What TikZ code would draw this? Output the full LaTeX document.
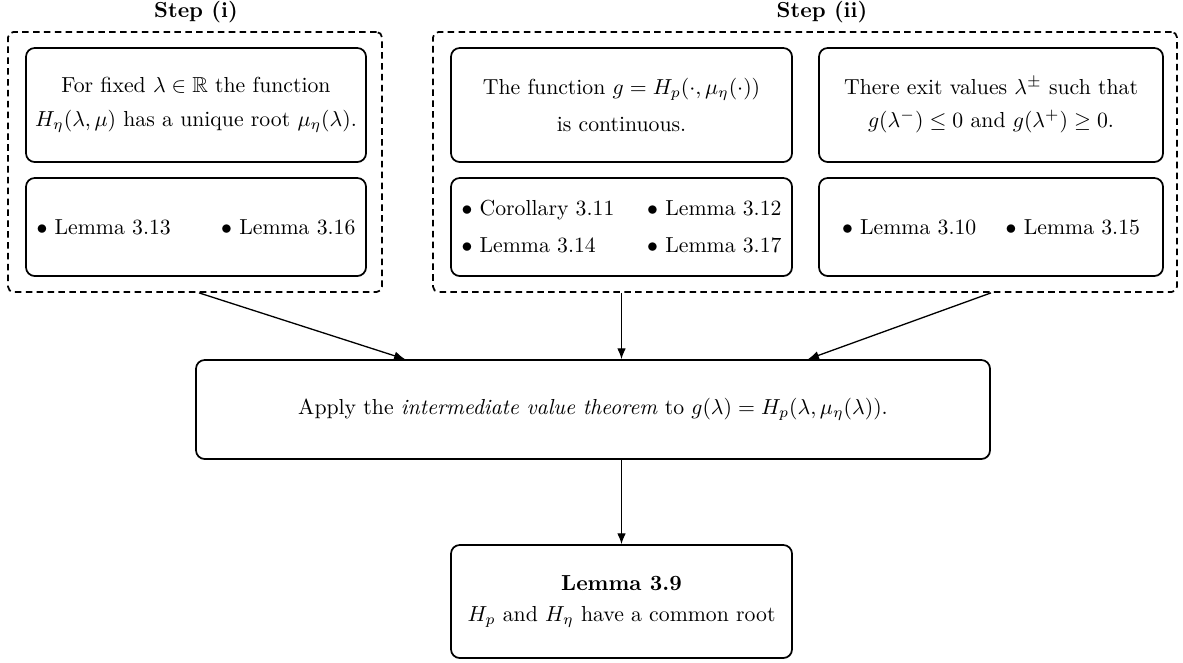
\documentclass[tikz,border=0pt]{standalone}
\usepackage{amsmath,amssymb}
\usetikzlibrary{arrows.meta,calc}
\newlength\ulen
\setlength\ulen{0.46pt}
\tikzset{
  x=0.46pt, y=-0.46pt,
  box/.style={draw, thick, rounded corners=4pt, inner sep=0pt, align=center},
  group/.style={draw, thick, dash pattern=on 3pt off 2pt, rounded corners=2.5pt, inner sep=0pt},
  arr/.style={semithick, -{Latex[length=5pt,width=4pt]}},
  steplabel/.style={font=\bfseries, inner sep=0pt}
}
\begin{document}
\begin{tikzpicture}
\useasboundingbox (0,0) rectangle (1183,662);

% dashed groups
\node[group, minimum width={374\ulen}, minimum height={260\ulen}] (outerI) at (195,162) {};
\node[group, minimum width={744\ulen}, minimum height={260\ulen}] (outerII) at (805,162) {};
\node[steplabel] (labI) at (196,12) {Step (i)};
\node[steplabel] (labII) at (822,12) {Step (ii)};

% step (i)
\node[box, minimum width={340\ulen}, minimum height={114\ulen}] (A1) at (196,105)
  {For fixed $\lambda\in\mathbb{R}$ the function\\[3.5pt]
   $H_\eta(\lambda,\mu)$ has a unique root $\mu_\eta(\lambda)$.};
\node[box, minimum width={340\ulen}, minimum height={98\ulen}] (A2) at (196,227)
  {\parbox{319\ulen}{$\bullet$ Lemma 3.13\hfill$\bullet$ Lemma 3.16}};

% step (ii)
\node[box, minimum width={341\ulen}, minimum height={114\ulen}] (B1) at (621.5,105)
  {The function $g=H_p(\cdot,\mu_\eta(\cdot))$\\[5pt]
   is continuous.};
\node[box, minimum width={341\ulen}, minimum height={98\ulen}] (B1L) at (621.5,227)
  {\parbox{320\ulen}{$\bullet$ Corollary 3.11\hfill$\bullet$ Lemma 3.12\\[5pt]
   $\bullet$ Lemma 3.14\hfill$\bullet$ Lemma 3.17}};
\node[box, minimum width={344\ulen}, minimum height={114\ulen}] (B2) at (991,105)
  {There exit values $\lambda^{\pm}$ such that\\[3pt]
   $g(\lambda^{-})\le 0$ and $g(\lambda^{+})\ge 0$.};
\node[box, minimum width={344\ulen}, minimum height={98\ulen}] (B2L) at (991,227)
  {\parbox{298\ulen}{$\bullet$ Lemma 3.10\hfill$\bullet$ Lemma 3.15}};

% conclusion chain
\node[box, minimum width={794\ulen}, minimum height={99\ulen}] (mid) at (593,409.5)
  {Apply the \emph{intermediate value theorem} to $g(\lambda)=H_p(\lambda,\mu_\eta(\lambda))$.};
\node[box, minimum width={341\ulen}, minimum height={113\ulen}] (fin) at (621.5,601.5)
  {\textbf{Lemma 3.9}\\[2pt]
   $H_p$ and $H_\eta$ have a common root};

% connectors
\draw[arr] ([xshift={4\ulen}]outerI.south) -- ([xshift={-188\ulen}]mid.north);
\draw[arr] (B1.south |- outerII.south) -- (B1.south |- mid.north);
\draw[arr] (B2.south |- outerII.south) -- ([xshift={215\ulen}]mid.north);
\draw[arr] (fin.north |- mid.south) -- (fin.north);
\end{tikzpicture}
\end{document}
